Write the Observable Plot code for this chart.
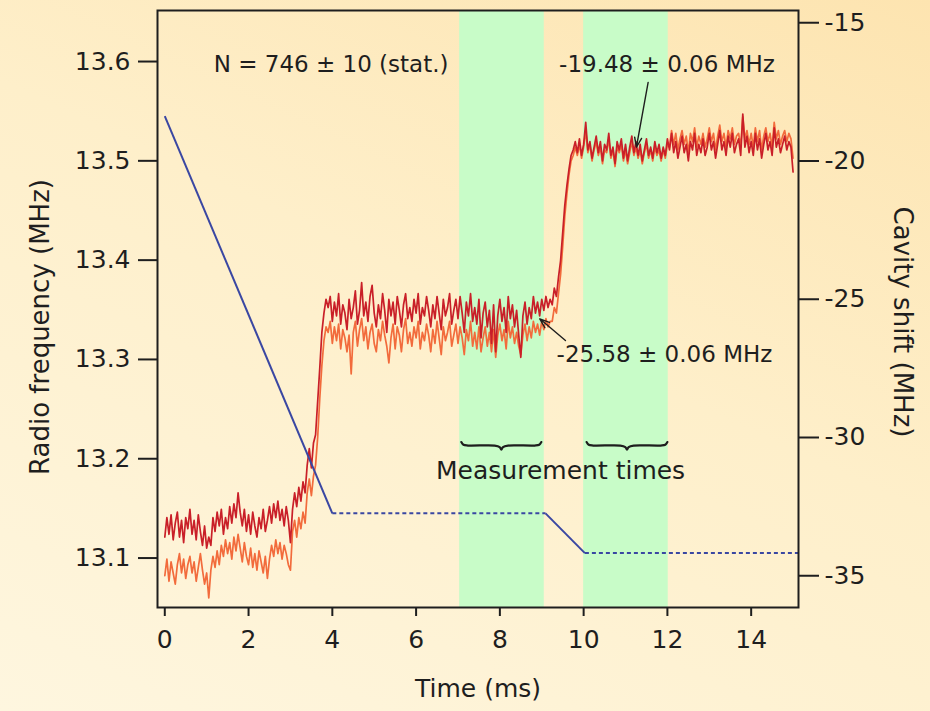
<!DOCTYPE html>
<html><head><meta charset="utf-8">
<script src="https://cdn.jsdelivr.net/npm/d3@7"></script>
<script src="https://cdn.jsdelivr.net/npm/@observablehq/plot@0.6"></script>
<style>
html,body{margin:0;padding:0;}
body{width:930px;height:711px;overflow:hidden;background:linear-gradient(205deg,#fde4b0 0%,#feefca 45%,#fef6df 100%);font-family:"DejaVu Sans";}
</style></head><body><div id="chart"></div>
<script>
// ---- tick labels ----
const timeTicks = [0, 2, 4, 6, 8, 10, 12, 14];
const rfTicks = [13.1, 13.2, 13.3, 13.4, 13.5, 13.6];
const shiftTicks = [-15, -20, -25, -30, -35];

// ---- measurement windows (ms) ----
const windowStart = [7.04, 10.0];
const windowEnd = [9.06, 12.02];
const braceStart = [7.08, 10.07];
const braceEnd = [8.99, 12.0];

// ---- radio-frequency ramp (blue), MHz ----
const rampTime = [0, 4.0, 9.09, 10.03, 15.13];
const rampRF = [13.545, 13.145, 13.145, 13.105, 13.105];
const rampDashed = [false, true, false, true]; // per segment

// ---- cavity shift traces, MHz, sampled every 0.05 ms from 0 to 15 ms ----
const sampleStep = 0.05;
const redShift = [
  // 0.00 - 3.00
  -33.6,-32.9,-33.5,-32.8,-33.7,-33.1,-32.7,-33.6,-33.0,-33.8,
  -32.9,-33.3,-32.6,-33.5,-33.0,-33.7,-32.8,-33.4,-33.9,-33.2,
  -34.0,-33.6,-33.9,-32.9,-33.4,-32.7,-33.2,-32.6,-33.5,-32.9,
  -33.3,-32.5,-33.1,-32.4,-32.9,-32.0,-32.7,-33.2,-32.6,-33.4,
  -32.8,-33.5,-32.7,-33.2,-33.6,-32.9,-33.3,-32.6,-33.4,-33.0,
  -32.5,-33.1,-32.4,-32.9,-32.3,-33.0,-32.6,-33.2,-32.5,-33.0,
  -33.8,
  // 3.05 - 3.85 rise
  -32.6,-32.0,-32.5,-31.8,-32.3,-31.6,-32.0,-31.0,-30.4,-31.1,-30.2,-29.9,-28.7,-27.5,-26.2,-25.5,-25.0,
  // 3.90 - 9.20 plateau
  -25.3,-24.9,-25.8,-25.1,-25.6,-24.8,-25.9,-25.2,-25.5,-26.1,
  -25.0,-25.7,-25.3,-24.7,-25.9,-25.4,-24.4,-25.6,-25.1,-25.8,
  -24.9,-24.5,-25.5,-26.0,-25.2,-25.7,-24.8,-25.4,-26.2,-25.0,
  -25.6,-25.1,-25.9,-24.9,-25.4,-26.0,-25.2,-24.8,-25.7,-25.3,
  -25.8,-25.0,-25.5,-24.8,-25.9,-25.3,-25.6,-24.9,-25.4,-26.0,
  -25.2,-25.7,-24.9,-25.5,-26.1,-25.0,-25.6,-25.3,-24.8,-25.9,
  -25.4,-25.0,-25.7,-24.9,-25.5,-26.2,-25.1,-25.6,-24.8,-25.8,
  -25.3,-25.9,-25.0,-26.4,-25.5,-25.1,-26.0,-25.4,-26.6,-25.2,
  -26.9,-25.6,-25.0,-25.8,-25.3,-26.2,-24.9,-25.7,-25.2,-26.0,
  -25.4,-26.3,-27.1,-25.6,-25.1,-25.9,-25.3,-25.7,-24.9,-25.5,
  -25.1,-25.6,-25.0,-25.4,-24.9,-25.3,-25.0,
  // 9.25 - 9.80 rise
  -25.2,-24.6,-24.9,-24.2,-23.6,-22.6,-21.6,-20.9,-20.3,-19.8,-19.6,-19.3,
  // 9.85 - 15.00 plateau
  -19.7,-19.2,-19.8,-19.4,-18.6,-19.6,-19.3,-19.9,-19.5,-19.1,
  -19.7,-19.3,-20.0,-19.4,-19.6,-19.0,-19.8,-19.5,-20.1,-19.3,
  -19.6,-19.2,-19.9,-19.4,-20.0,-19.5,-19.1,-19.7,-19.3,-19.8,
  -19.4,-20.0,-19.6,-19.2,-19.8,-19.5,-19.9,-19.3,-19.7,-19.4,
  -19.9,-19.5,-19.8,-19.2,-19.6,-19.0,-19.7,-19.3,-19.9,-19.5,
  -19.1,-19.7,-19.4,-20.0,-19.3,-19.6,-19.0,-19.8,-19.4,-19.7,
  -19.2,-19.8,-19.5,-19.0,-19.6,-19.3,-19.9,-19.4,-18.9,-19.6,
  -19.3,-19.8,-19.1,-19.5,-19.0,-19.7,-19.4,-19.2,-19.8,-18.3,
  -19.5,-19.1,-19.7,-19.3,-19.8,-19.0,-19.6,-19.2,-19.9,-19.4,
  -19.0,-19.6,-19.3,-19.8,-18.8,-19.5,-19.2,-19.7,-19.4,-19.1,
  -19.6,-19.3,-19.5,-20.4
];
const orangeShift = [
  // 0.00 - 3.00
  -35.0,-34.4,-35.2,-34.5,-34.9,-35.3,-34.6,-34.2,-34.9,-34.4,
  -35.1,-34.6,-34.3,-34.9,-34.5,-35.2,-34.7,-34.2,-34.8,-35.3,
  -34.9,-35.8,-34.8,-34.3,-34.7,-34.1,-34.6,-33.9,-34.3,-33.7,
  -34.2,-33.8,-34.4,-33.6,-34.1,-33.5,-34.0,-34.5,-33.8,-34.3,
  -34.6,-34.0,-34.7,-34.2,-34.8,-34.1,-34.5,-34.9,-34.3,-35.1,
  -34.4,-33.9,-34.3,-33.7,-34.2,-33.8,-34.4,-33.9,-34.2,-34.6,
  -34.8,
  // 3.05 - 3.85 rise
  -33.4,-33.0,-33.6,-32.9,-33.3,-32.7,-33.1,-32.0,-31.5,-32.1,-31.4,-31.0,-30.0,-28.6,-27.4,-26.5,-26.0,
  // 3.90 - 9.20 plateau
  -26.2,-25.8,-26.6,-26.0,-26.5,-25.9,-26.8,-26.1,-26.4,-26.9,
  -26.3,-27.7,-26.2,-25.8,-26.7,-26.1,-25.7,-26.5,-26.0,-26.8,
  -26.2,-25.9,-26.6,-26.9,-26.1,-26.5,-25.8,-26.3,-26.7,-27.3,
  -26.4,-25.9,-26.8,-26.0,-26.3,-26.9,-26.1,-25.7,-26.6,-26.2,
  -26.7,-26.0,-26.4,-25.8,-26.8,-26.2,-26.5,-25.9,-26.3,-26.9,
  -26.1,-26.6,-25.8,-26.4,-27.0,-26.0,-26.5,-26.2,-25.8,-26.7,
  -26.3,-25.9,-26.6,-26.0,-26.4,-27.0,-26.1,-26.5,-25.8,-26.7,
  -26.2,-26.8,-26.0,-26.9,-26.4,-26.0,-26.7,-26.2,-26.9,-26.1,
  -27.1,-26.3,-25.9,-26.5,-26.1,-26.8,-25.8,-26.4,-26.0,-26.6,
  -26.2,-26.7,-27.0,-26.3,-25.9,-26.5,-26.0,-26.4,-25.8,-26.2,
  -25.9,-26.3,-25.8,-26.1,-25.7,-26.0,-25.8,
  // 9.25 - 9.80 rise
  -25.8,-25.3,-25.5,-24.8,-24.1,-23.1,-22.0,-21.2,-20.5,-20.0,-19.8,-19.5,
  // 9.85 - 15.00 plateau
  -19.8,-19.4,-19.9,-19.5,-18.9,-19.7,-19.4,-20.0,-19.6,-19.3,
  -19.8,-19.5,-20.1,-19.6,-19.7,-19.2,-19.9,-19.6,-20.2,-19.5,
  -19.7,-19.4,-20.0,-19.6,-20.1,-19.7,-19.3,-19.8,-19.5,-19.9,
  -19.6,-20.1,-19.7,-19.4,-19.9,-19.6,-20.0,-19.5,-19.8,-19.6,
  -20.0,-19.6,-19.9,-19.4,-19.5,-18.9,-19.4,-19.0,-19.6,-19.2,
  -18.9,-19.4,-19.1,-19.7,-19.0,-19.3,-18.8,-19.5,-19.1,-19.4,
  -19.0,-19.5,-19.2,-18.8,-19.3,-19.0,-19.6,-19.1,-18.7,-19.3,
  -19.0,-19.5,-18.9,-19.2,-18.8,-19.4,-19.1,-19.0,-19.5,-18.4,
  -19.2,-18.9,-19.4,-19.0,-19.5,-18.8,-19.3,-18.9,-19.6,-19.1,
  -18.8,-19.3,-19.0,-19.5,-18.6,-19.2,-18.9,-19.4,-19.1,-18.9,
  -19.3,-19.0,-19.2,-19.9
];

// ---- annotations (time ms, radio frequency MHz) ----
const labelTexts = ["N = 746 \u00b1 10 (stat.)", "-19.48 \u00b1 0.06 MHz", "-25.58 \u00b1 0.06 MHz", "Measurement times"];
const labelTime = [3.97, 11.99, 11.93, 9.45];
const labelRF = [13.597, 13.597, 13.305, 13.188];
const labelSize = [23, 23, 23, 25];
const arrowFromT = [11.54, 9.566];
const arrowFromRF = [13.579, 13.319];
const arrowToT = [11.26, 8.953];
const arrowToRF = [13.5137, 13.3409];
const braceRF = 13.2133;

// secondary axis mapping: cavity shift (MHz) -> radio-frequency scale
const shiftToRF = s => 13.1 + (258.8 + (25 + s) * 27.65) / 993;
const rfToShift = f => ((f - 13.1) * 993 - 258.8) / 27.65 - 25;

const redTrace = redShift.map((s, i) => ({t: i * sampleStep, rf: shiftToRF(s)}));
const orangeTrace = orangeShift.map((s, i) => ({t: i * sampleStep, rf: shiftToRF(s)}));
const bands = windowStart.map((s, i) => ({start: s, end: windowEnd[i]}));
const rampSegs = rampDashed.map((d, i) => ({x1: rampTime[i], y1: rampRF[i], x2: rampTime[i + 1], y2: rampRF[i + 1], dashed: d}));
const labels = labelTexts.map((txt, i) => ({txt, t: labelTime[i], rf: labelRF[i], size: labelSize[i]}));
const arrows = arrowFromT.map((t, i) => ({x1: t, y1: arrowFromRF[i], x2: arrowToT[i], y2: arrowToRF[i]}));
const braces = [];
braceStart.forEach((x0, i) => {
  const x1 = braceEnd[i], xm = (x0 + x1) / 2, y = braceRF;
  const pts = [[x0, y + 0.0035], [x0 + 0.05, y + 0.0008], [x0 + 0.16, y], [xm - 0.16, y], [xm - 0.04, y - 0.0015], [xm, y - 0.0042],
               [xm + 0.04, y - 0.0015], [xm + 0.16, y], [x1 - 0.16, y], [x1 - 0.05, y + 0.0008], [x1, y + 0.0035]];
  pts.forEach(p => braces.push({b: i, t: p[0], rf: p[1]}));
});

const ink = "#1e1e1e";
const chart = Plot.plot({
  width: 930, height: 711,
  marginLeft: 157, marginRight: 132, marginTop: 10, marginBottom: 104,
  style: {background: "transparent", fontFamily: "DejaVu Sans", fontSize: "25px", color: ink},
  x: {domain: [-0.174, 15.13]},
  y: {domain: [13.0502, 13.6514]},
  marks: [
    Plot.rect(bands, {x1: "start", x2: "end", fill: "#c8fcc8"}),
    Plot.line(orangeTrace, {x: "t", y: "rf", stroke: "#f26b3c", strokeWidth: 1.7}),
    Plot.line(redTrace, {x: "t", y: "rf", stroke: "#c91f28", strokeWidth: 1.7}),
    Plot.link(rampSegs.filter(d => !d.dashed), {x1: "x1", y1: "y1", x2: "x2", y2: "y2", stroke: "#3a47a2", strokeWidth: 2}),
    Plot.link(rampSegs.filter(d => d.dashed), {x1: "x1", y1: "y1", x2: "x2", y2: "y2", stroke: "#3a47a2", strokeWidth: 2, strokeDasharray: "4,3"}),
    Plot.line(braces, {x: "t", y: "rf", z: "b", curve: "catmull-rom", stroke: ink, strokeWidth: 2.2}),
    Plot.text(labels, {x: "t", y: "rf", text: "txt", fontSize: d => d.size, fill: ink}),
    Plot.arrow(arrows, {x1: "x1", y1: "y1", x2: "x2", y2: "y2", stroke: ink, strokeWidth: 1.4, headLength: 11, headAngle: 40}),
    Plot.frame({stroke: ink, strokeWidth: 2}),
    Plot.axisX({ticks: timeTicks, tickSize: 9, tickPadding: 14, strokeWidth: 2, fontSize: 25, label: null, fill: ink}),
    Plot.axisY({ticks: rfTicks, anchor: "left", tickSize: 19, tickPadding: 8, tickFormat: d => d.toFixed(1), strokeWidth: 2, fontSize: 25, label: null, fill: ink}),
    Plot.axisY({ticks: shiftTicks.map(shiftToRF), anchor: "right", tickSize: 20, tickPadding: 6, tickFormat: d => String(Math.round(rfToShift(d))), strokeWidth: 2, fontSize: 25, label: null, fill: ink}),
    Plot.text(["Time (ms)"], {frameAnchor: "bottom", dy: 89, fontSize: 25, fill: ink}),
    Plot.text(["Radio frequency (MHz)"], {frameAnchor: "left", textAnchor: "middle", dx: -117, dy: 18, rotate: -90, fontSize: 26, fill: ink}),
    Plot.text(["Cavity shift (MHz)"], {frameAnchor: "right", textAnchor: "middle", dx: 104, dy: 13, rotate: 90, fontSize: 26, fill: ink})
  ]
});
document.getElementById("chart").appendChild(chart);
</script></body></html>
